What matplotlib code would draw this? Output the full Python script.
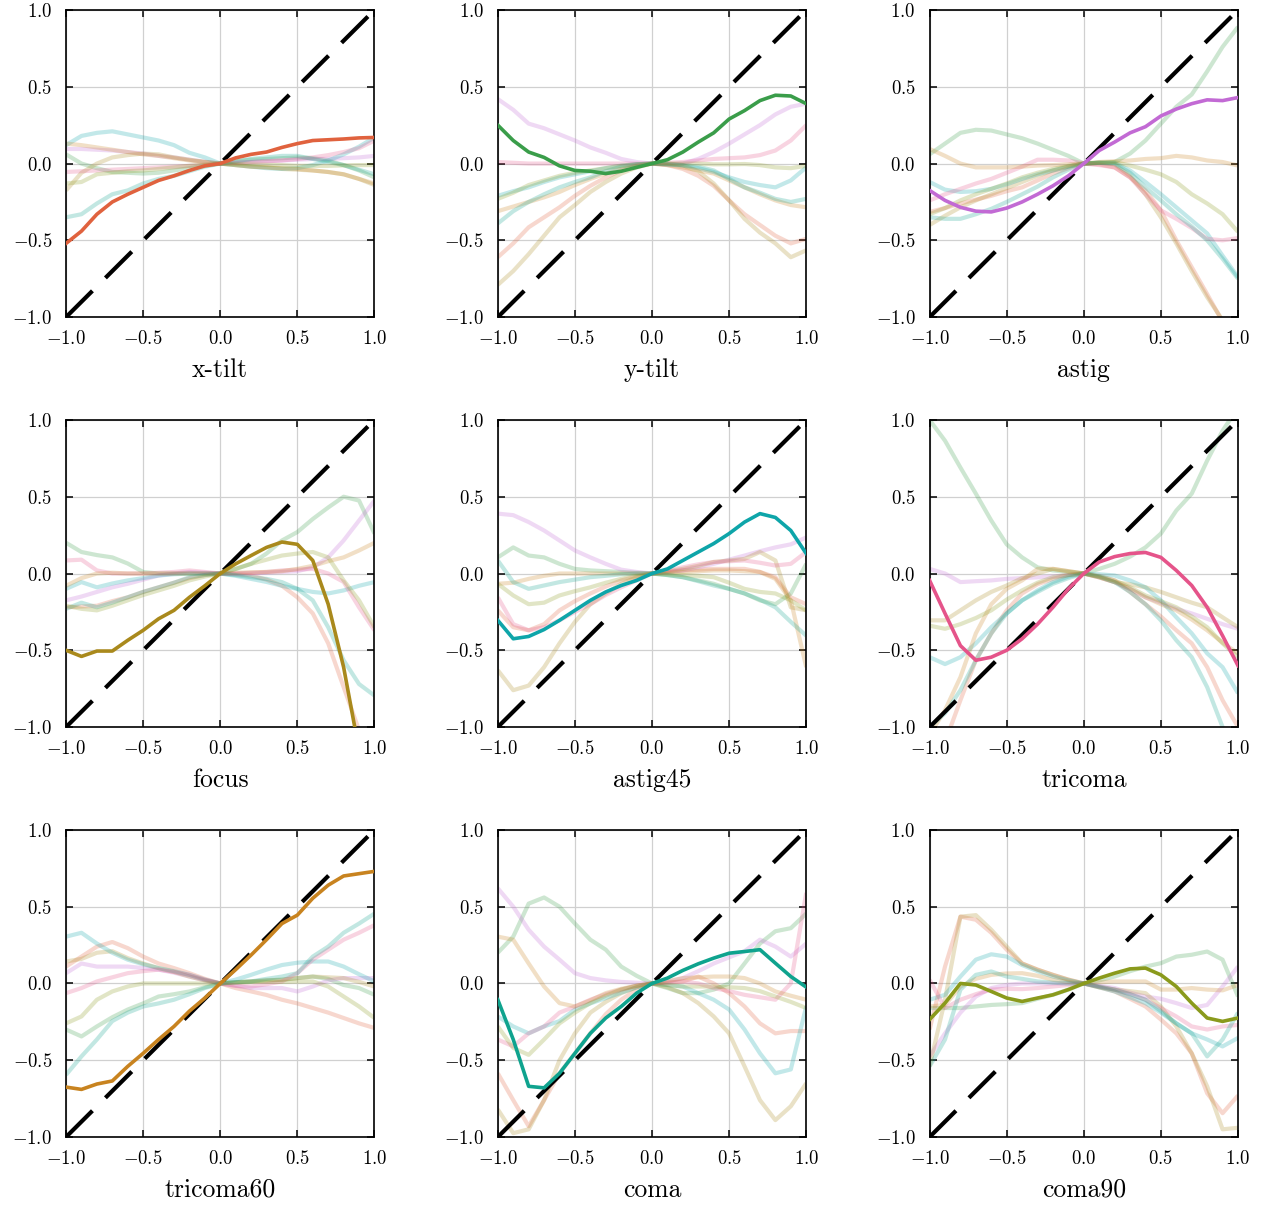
import numpy as np
import matplotlib
matplotlib.use("Agg")
import matplotlib.pyplot as plt

# ─────────────────────────────────────────────────────────
# Data: response of every mode while sweeping one mode
# rows follow MODES order, columns follow X
# ─────────────────────────────────────────────────────────
MODES = ['x-tilt', 'y-tilt', 'astig', 'focus', 'astig45',
         'tricoma', 'tricoma60', 'coma', 'coma90']

COLORS = ['#e0623e', '#3a9d4a', '#c26ad4', '#a9891c', '#0ea5a9',
          '#e5548a', '#c8831f', '#0fa38e', '#8a9a1c']

X = np.round(np.arange(-1.0, 1.001, 0.1), 2)

XTILT = [
    [-0.52, -0.44, -0.33, -0.25, -0.20, -0.155, -0.11, -0.08, -0.045, -0.015, 0, 0.037, 0.06, 0.075, 0.105, 0.13, 0.15, 0.155, 0.16, 0.167, 0.17],
    [0.06, 0.0, -0.03, -0.055, -0.06, -0.065, -0.06, -0.045, -0.03, -0.015, 0, 0.015, 0.025, 0.03, 0.035, 0.04, 0.035, 0.02, -0.01, -0.045, -0.09],
    [0.095, 0.095, 0.09, 0.085, 0.075, 0.065, 0.05, 0.04, 0.025, 0.012, 0, 0.005, 0.01, 0.015, 0.02, 0.025, 0.03, 0.03, 0.035, 0.04, 0.05],
    [-0.175, -0.06, 0.0, 0.04, 0.055, 0.065, 0.06, 0.04, 0.025, 0.01, 0, -0.01, -0.02, -0.025, -0.035, -0.04, -0.045, -0.055, -0.07, -0.1, -0.14],
    [0.12, 0.18, 0.2, 0.21, 0.19, 0.17, 0.15, 0.12, 0.07, 0.04, 0, -0.01, -0.02, -0.03, -0.035, -0.03, -0.01, 0.02, 0.06, 0.11, 0.17],
    [-0.055, -0.05, -0.045, -0.04, -0.035, -0.03, -0.025, -0.02, -0.015, -0.008, 0, 0.005, 0.01, 0.015, 0.02, 0.03, 0.04, 0.055, 0.075, 0.1, 0.15],
    [0.13, 0.12, 0.105, 0.09, 0.075, 0.06, 0.05, 0.035, 0.02, 0.01, 0, -0.01, -0.02, -0.025, -0.03, -0.035, -0.045, -0.055, -0.07, -0.1, -0.13],
    [-0.35, -0.33, -0.26, -0.2, -0.175, -0.13, -0.1, -0.08, -0.05, -0.02, 0, 0.015, 0.03, 0.04, 0.05, 0.05, 0.03, 0.01, -0.01, -0.04, -0.07],
    [-0.13, -0.12, -0.07, -0.06, -0.05, -0.045, -0.035, -0.025, -0.015, -0.008, 0, -0.003, -0.005, -0.008, -0.01, -0.015, -0.015, -0.015, -0.012, -0.01, -0.01],
]

YTILT = [
    [-0.61, -0.52, -0.415, -0.35, -0.285, -0.21, -0.145, -0.09, -0.045, -0.015, 0, -0.01, -0.035, -0.08, -0.145, -0.24, -0.33, -0.4, -0.47, -0.52, -0.49],
    [0.25, 0.15, 0.075, 0.04, -0.015, -0.045, -0.05, -0.065, -0.05, -0.025, 0, 0.025, 0.075, 0.14, 0.2, 0.29, 0.345, 0.41, 0.445, 0.44, 0.39],
    [0.42, 0.35, 0.26, 0.23, 0.19, 0.15, 0.105, 0.07, 0.03, 0.01, 0, -0.005, 0.0, 0.03, 0.075, 0.13, 0.19, 0.25, 0.32, 0.37, 0.39],
    [-0.79, -0.7, -0.59, -0.47, -0.35, -0.27, -0.185, -0.12, -0.065, -0.025, 0, 0.0, -0.01, -0.05, -0.13, -0.24, -0.36, -0.45, -0.52, -0.61, -0.565],
    [-0.21, -0.18, -0.155, -0.12, -0.09, -0.07, -0.05, -0.03, -0.013, -0.005, 0, -0.005, -0.013, -0.03, -0.055, -0.09, -0.12, -0.14, -0.155, -0.11, -0.025],
    [0.01, 0.005, 0.0, 0.0, 0.0, 0.0, 0.0, 0.0, 0.0, 0.0, 0, 0.005, 0.01, 0.02, 0.03, 0.035, 0.04, 0.055, 0.085, 0.15, 0.25],
    [-0.31, -0.28, -0.25, -0.22, -0.185, -0.14, -0.1, -0.065, -0.035, -0.015, 0, -0.01, -0.025, -0.045, -0.065, -0.11, -0.155, -0.2, -0.24, -0.27, -0.285],
    [-0.39, -0.31, -0.25, -0.2, -0.155, -0.12, -0.09, -0.05, -0.02, -0.005, 0, -0.005, -0.01, -0.02, -0.045, -0.1, -0.155, -0.19, -0.23, -0.25, -0.23],
    [-0.23, -0.19, -0.14, -0.11, -0.08, -0.06, -0.045, -0.03, -0.015, -0.005, 0, 0.0, 0.0, 0.0, -0.005, -0.005, -0.003, -0.01, -0.025, -0.03, -0.015],
]

ASTIG = [
    [-0.315, -0.29, -0.26, -0.235, -0.21, -0.18, -0.155, -0.11, -0.065, -0.03, 0, -0.005, -0.025, -0.09, -0.175, -0.305, -0.5, -0.675, -0.85, -1.03, -1.2],
    [0.06, 0.13, 0.2, 0.22, 0.215, 0.19, 0.165, 0.13, 0.09, 0.05, 0, 0.005, 0.01, 0.065, 0.15, 0.26, 0.37, 0.45, 0.6, 0.76, 0.89],
    [-0.175, -0.24, -0.285, -0.31, -0.315, -0.29, -0.25, -0.2, -0.145, -0.08, 0, 0.085, 0.14, 0.2, 0.24, 0.31, 0.355, 0.39, 0.415, 0.41, 0.43],
    [-0.4, -0.34, -0.285, -0.24, -0.2, -0.16, -0.12, -0.08, -0.045, -0.02, 0, 0.005, -0.005, -0.08, -0.2, -0.35, -0.52, -0.7, -0.87, -1.02, -1.2],
    [-0.12, -0.17, -0.185, -0.18, -0.165, -0.135, -0.1, -0.07, -0.045, -0.02, 0, 0.005, 0.005, -0.045, -0.12, -0.2, -0.285, -0.37, -0.455, -0.6, -0.74],
    [-0.24, -0.2, -0.165, -0.13, -0.1, -0.06, -0.02, 0.025, 0.025, 0.02, 0, -0.01, -0.025, -0.09, -0.2, -0.305, -0.36, -0.42, -0.49, -0.5, -0.485],
    [0.095, 0.05, 0.0, -0.025, -0.025, -0.025, -0.02, -0.013, -0.01, -0.005, 0, 0.01, 0.015, 0.02, 0.03, 0.035, 0.05, 0.04, 0.02, 0.01, -0.013],
    [-0.35, -0.36, -0.36, -0.33, -0.295, -0.25, -0.2, -0.15, -0.09, -0.04, 0, 0.005, 0.0, -0.06, -0.155, -0.24, -0.33, -0.41, -0.5, -0.62, -0.75],
    [-0.33, -0.29, -0.24, -0.2, -0.165, -0.13, -0.09, -0.06, -0.035, -0.015, 0, 0.005, 0.01, -0.013, -0.04, -0.07, -0.12, -0.2, -0.26, -0.33, -0.445],
]

FOCUS = [
    [-0.22, -0.215, -0.21, -0.18, -0.155, -0.12, -0.09, -0.06, -0.03, -0.01, 0, -0.005, -0.013, -0.04, -0.08, -0.155, -0.26, -0.455, -0.74, -1.02, -1.3],
    [0.2, 0.14, 0.12, 0.105, 0.065, 0.01, 0.0, 0.0, 0.0, 0.0, 0, 0.03, 0.063, 0.13, 0.215, 0.27, 0.355, 0.43, 0.5, 0.475, 0.26],
    [-0.175, -0.15, -0.12, -0.09, -0.067, -0.04, -0.013, 0.0, 0.01, 0.005, 0, 0.0, 0.0, 0.005, 0.01, 0.015, 0.04, 0.105, 0.215, 0.345, 0.475],
    [-0.5, -0.54, -0.505, -0.505, -0.435, -0.37, -0.295, -0.24, -0.155, -0.08, 0, 0.063, 0.117, 0.17, 0.205, 0.19, 0.085, -0.2, -0.61, -1.15, -1.5],
    [-0.1, -0.056, -0.09, -0.065, -0.045, -0.03, -0.013, -0.005, 0.0, 0.0, 0, -0.015, -0.035, -0.055, -0.08, -0.1, -0.12, -0.13, -0.11, -0.08, -0.056],
    [0.085, 0.09, 0.02, 0.0, 0.0, 0.0, 0.005, 0.01, 0.02, 0.01, 0, 0.0, 0.005, 0.01, 0.02, 0.025, 0.03, 0.0, -0.055, -0.22, -0.37],
    [-0.08, -0.03, 0.0, 0.005, 0.0, 0.0, 0.0, 0.0, 0.0, 0.0, 0, 0.005, 0.008, 0.01, 0.015, 0.03, 0.05, 0.08, 0.105, 0.15, 0.2],
    [-0.23, -0.19, -0.22, -0.19, -0.155, -0.12, -0.09, -0.06, -0.024, -0.01, 0, -0.01, -0.024, -0.035, -0.056, -0.1, -0.175, -0.35, -0.565, -0.72, -0.795],
    [-0.21, -0.23, -0.24, -0.21, -0.175, -0.14, -0.11, -0.08, -0.045, -0.02, 0, 0.03, 0.063, 0.09, 0.117, 0.13, 0.14, 0.105, -0.045, -0.175, -0.35],
]

ASTIG45 = [
    [-0.24, -0.35, -0.37, -0.33, -0.24, -0.18, -0.13, -0.085, -0.045, -0.02, 0, 0.01, 0.02, 0.025, 0.03, 0.03, 0.03, 0.01, -0.024, -0.155, -0.2],
    [0.105, 0.17, 0.117, 0.105, 0.063, 0.03, 0.02, 0.015, 0.01, 0.005, 0, -0.01, -0.024, -0.045, -0.067, -0.1, -0.13, -0.175, -0.2, -0.13, 0.063],
    [0.39, 0.38, 0.335, 0.28, 0.215, 0.15, 0.105, 0.063, 0.025, 0.01, 0, 0.01, 0.02, 0.04, 0.063, 0.09, 0.117, 0.145, 0.17, 0.19, 0.235],
    [-0.63, -0.76, -0.73, -0.61, -0.455, -0.315, -0.2, -0.13, -0.067, -0.025, 0, 0.015, 0.03, 0.05, 0.075, 0.085, 0.095, 0.14, 0.085, -0.22, -0.24],
    [-0.305, -0.425, -0.41, -0.365, -0.305, -0.24, -0.175, -0.12, -0.078, -0.045, 0, 0.03, 0.085, 0.14, 0.195, 0.26, 0.335, 0.39, 0.365, 0.28, 0.13],
    [-0.155, -0.33, -0.37, -0.35, -0.305, -0.25, -0.2, -0.14, -0.09, -0.045, 0, 0.02, 0.04, 0.06, 0.075, 0.08, 0.085, 0.07, 0.052, 0.063, 0.14],
    [-0.067, -0.06, -0.035, -0.015, 0.0, 0.0, 0.0, 0.0, 0.0, 0.0, 0, 0.005, 0.01, 0.015, 0.02, 0.02, 0.015, 0.01, -0.035, -0.175, -0.61],
    [0.085, -0.056, -0.1, -0.078, -0.056, -0.04, -0.024, -0.015, -0.005, 0.0, 0, -0.01, -0.024, -0.05, -0.078, -0.1, -0.13, -0.17, -0.22, -0.315, -0.405],
    [-0.067, -0.143, -0.2, -0.19, -0.143, -0.115, -0.09, -0.06, -0.035, -0.015, 0, -0.005, -0.01, -0.015, -0.024, -0.06, -0.1, -0.12, -0.13, -0.175, -0.24],
]

TRICOMA = [
    [-1.15, -1.1, -0.825, -0.565, -0.39, -0.24, -0.13, -0.07, -0.035, -0.01, 0, -0.015, -0.045, -0.12, -0.2, -0.28, -0.37, -0.455, -0.61, -0.825, -1.0],
    [1.0, 0.865, 0.69, 0.52, 0.345, 0.19, 0.105, 0.04, 0.02, 0.01, 0, 0.03, 0.063, 0.11, 0.17, 0.26, 0.41, 0.52, 0.735, 0.93, 1.08],
    [0.03, 0.0, -0.056, -0.05, -0.045, -0.035, -0.03, -0.025, -0.02, -0.01, 0, -0.025, -0.056, -0.1, -0.155, -0.19, -0.23, -0.26, -0.295, -0.33, -0.36],
    [-0.305, -0.305, -0.24, -0.175, -0.12, -0.078, -0.03, 0.0, 0.03, 0.015, 0, -0.025, -0.056, -0.07, -0.09, -0.12, -0.155, -0.19, -0.22, -0.285, -0.35],
    [-0.545, -0.59, -0.545, -0.455, -0.35, -0.26, -0.175, -0.11, -0.056, -0.02, 0, -0.005, -0.013, -0.045, -0.09, -0.175, -0.285, -0.39, -0.52, -0.61, -0.78],
    [-0.045, -0.26, -0.47, -0.565, -0.545, -0.5, -0.425, -0.33, -0.22, -0.1, 0, 0.075, 0.11, 0.13, 0.137, 0.105, 0.02, -0.078, -0.22, -0.405, -0.6],
    [-1.05, -0.89, -0.675, -0.39, -0.2, -0.1, -0.045, 0.03, 0.03, 0.015, 0, -0.025, -0.056, -0.1, -0.155, -0.2, -0.24, -0.3, -0.37, -0.45, -0.52],
    [-1.0, -0.91, -0.76, -0.565, -0.39, -0.26, -0.175, -0.12, -0.067, -0.03, 0, -0.02, -0.056, -0.12, -0.2, -0.305, -0.435, -0.545, -0.74, -1.0, -1.2],
    [-0.34, -0.36, -0.33, -0.29, -0.24, -0.17, -0.11, -0.06, -0.024, -0.01, 0, -0.02, -0.045, -0.09, -0.143, -0.18, -0.22, -0.28, -0.35, -0.455, -0.545],
]

TRICOMA60 = [
    [0.11, 0.175, 0.24, 0.27, 0.23, 0.175, 0.13, 0.1, 0.067, 0.03, 0, -0.03, -0.052, -0.075, -0.106, -0.13, -0.16, -0.19, -0.225, -0.26, -0.29],
    [-0.3, -0.345, -0.28, -0.22, -0.17, -0.13, -0.085, -0.07, -0.052, -0.025, 0, 0.008, 0.013, 0.02, 0.024, 0.035, 0.045, 0.03, -0.01, -0.03, -0.074],
    [0.067, 0.13, 0.11, 0.11, 0.11, 0.1, 0.09, 0.07, 0.045, 0.02, 0, -0.015, -0.03, -0.03, -0.03, -0.052, -0.02, 0.02, 0.035, 0.035, 0.035],
    [0.143, 0.16, 0.2, 0.21, 0.165, 0.13, 0.1, 0.075, 0.045, 0.02, 0, 0.008, 0.013, 0.02, 0.024, 0.035, 0.045, 0.04, 0.035, 0.01, -0.02],
    [0.305, 0.33, 0.26, 0.2, 0.155, 0.125, 0.1, 0.08, 0.056, 0.025, 0, 0.025, 0.056, 0.09, 0.12, 0.135, 0.143, 0.143, 0.11, 0.06, 0.013],
    [-0.063, -0.03, 0.013, 0.04, 0.067, 0.08, 0.09, 0.075, 0.056, 0.025, 0, -0.015, -0.02, -0.005, 0.013, 0.067, 0.155, 0.22, 0.285, 0.33, 0.38],
    [-0.675, -0.69, -0.655, -0.635, -0.54, -0.455, -0.365, -0.28, -0.18, -0.095, 0, 0.09, 0.185, 0.285, 0.39, 0.445, 0.555, 0.64, 0.7, 0.715, 0.73],
    [-0.595, -0.475, -0.365, -0.245, -0.19, -0.15, -0.13, -0.106, -0.07, -0.03, 0, 0.008, 0.013, 0.03, 0.045, 0.067, 0.175, 0.24, 0.33, 0.39, 0.455],
    [-0.26, -0.215, -0.106, -0.052, -0.02, 0.0, 0.0, 0.0, 0.0, 0.0, 0, 0.005, 0.01, 0.01, 0.01, 0.012, 0.013, -0.02, -0.085, -0.15, -0.225],
]

COMA = [
    [-0.585, -0.76, -0.93, -0.76, -0.585, -0.455, -0.325, -0.2, -0.106, -0.04, 0, 0.005, 0.013, 0.045, 0.0, -0.063, -0.15, -0.26, -0.325, -0.31, -0.31],
    [0.2, 0.305, 0.52, 0.56, 0.5, 0.39, 0.285, 0.22, 0.11, 0.05, 0, -0.03, -0.063, -0.063, -0.04, 0.0, 0.13, 0.26, 0.34, 0.36, 0.455],
    [0.62, 0.5, 0.35, 0.24, 0.155, 0.067, 0.035, 0.02, 0.01, 0.005, 0, 0.01, 0.035, 0.08, 0.13, 0.17, 0.21, 0.285, 0.24, 0.175, 0.26],
    [-0.82, -0.975, -0.95, -0.76, -0.5, -0.325, -0.19, -0.12, -0.063, -0.025, 0, -0.025, -0.063, -0.128, -0.215, -0.325, -0.54, -0.76, -0.89, -0.8, -0.65],
    [-0.215, -0.28, -0.325, -0.28, -0.245, -0.17, -0.13, -0.095, -0.06, -0.025, 0, -0.01, -0.02, -0.063, -0.106, -0.17, -0.3, -0.455, -0.585, -0.56, -0.15],
    [-0.365, -0.41, -0.325, -0.28, -0.19, -0.15, -0.106, -0.07, -0.04, -0.015, 0, 0.005, 0.013, 0.0, -0.03, -0.05, -0.074, -0.09, -0.106, 0.0, 0.59],
    [0.305, 0.285, 0.13, -0.02, -0.128, -0.15, -0.11, -0.063, -0.035, -0.015, 0, 0.015, 0.035, 0.04, 0.045, 0.045, 0.035, 0.0, -0.052, -0.08, -0.106],
    [-0.106, -0.365, -0.67, -0.68, -0.585, -0.455, -0.325, -0.225, -0.15, -0.063, 0, 0.035, 0.085, 0.128, 0.165, 0.197, 0.208, 0.22, 0.132, 0.045, -0.024],
    [-0.28, -0.42, -0.465, -0.365, -0.26, -0.19, -0.128, -0.08, -0.04, -0.015, 0, -0.01, -0.02, -0.02, -0.02, -0.025, -0.03, -0.05, -0.085, -0.12, -0.16],
]

COMA90 = [
    [-0.3, 0.11, 0.435, 0.415, 0.33, 0.22, 0.13, 0.09, 0.056, 0.025, 0, -0.025, -0.052, -0.1, -0.15, -0.235, -0.325, -0.455, -0.715, -0.845, -0.73],
    [-0.16, -0.16, -0.16, -0.15, -0.14, -0.135, -0.128, -0.1, -0.074, -0.04, 0, 0.02, 0.045, 0.08, 0.11, 0.132, 0.175, 0.187, 0.208, 0.155, -0.085],
    [-0.475, -0.325, -0.19, -0.085, -0.03, -0.01, 0.0, 0.0, 0.0, 0.0, 0, -0.015, -0.03, -0.06, -0.085, -0.1, -0.128, -0.16, -0.14, -0.02, 0.11],
    [-0.54, -0.106, 0.435, 0.445, 0.35, 0.24, 0.13, 0.09, 0.056, 0.025, 0, -0.025, -0.04, -0.05, -0.063, -0.15, -0.28, -0.455, -0.67, -0.95, -0.94],
    [-0.106, -0.074, 0.045, 0.155, 0.19, 0.175, 0.12, 0.08, 0.045, 0.02, 0, -0.025, -0.052, -0.09, -0.128, -0.19, -0.26, -0.325, -0.365, -0.41, -0.355],
    [0.024, -0.16, -0.106, -0.07, -0.04, -0.035, -0.037, -0.03, -0.02, -0.01, 0, -0.02, -0.04, -0.07, -0.106, -0.16, -0.215, -0.28, -0.3, -0.28, -0.27],
    [-0.15, -0.14, -0.02, 0.03, 0.056, 0.065, 0.067, 0.05, 0.024, 0.01, 0, 0.008, 0.013, 0.013, 0.013, -0.04, -0.04, -0.03, -0.04, -0.045, -0.01],
    [-0.54, -0.365, -0.04, 0.056, 0.078, 0.045, 0.03, 0.013, 0.005, 0.0, 0, -0.02, -0.04, -0.07, -0.106, -0.18, -0.26, -0.325, -0.475, -0.365, -0.19],
    [-0.235, -0.128, 0.0, -0.01, -0.052, -0.095, -0.117, -0.095, -0.074, -0.04, 0, 0.035, 0.067, 0.095, 0.1, 0.056, -0.02, -0.128, -0.225, -0.247, -0.225],
]

PANELS = [XTILT, YTILT, ASTIG, FOCUS, ASTIG45, TRICOMA, TRICOMA60, COMA, COMA90]


# ─────────────────────────────────────────────────────────
# Style
# ─────────────────────────────────────────────────────────
plt.rcParams['font.family'] = ['cmr10', 'DejaVu Serif']
plt.rcParams['mathtext.fontset'] = 'cm'
plt.rcParams['axes.formatter.use_mathtext'] = True
plt.rcParams['axes.unicode_minus'] = True


def main():
    fig, axes = plt.subplots(3, 3, figsize=(12.63, 12.07), dpi=100)
    fig.subplots_adjust(left=0.0523, right=0.9802, top=0.9917, bottom=0.058,
                        wspace=0.40, hspace=0.335)

    for k, ax in enumerate(axes.flat):
        data = PANELS[k]
        # faint responses of the other modes
        for i, row in enumerate(data):
            if i == k:
                continue
            ax.plot(X, row, color=COLORS[i], lw=3, alpha=0.25,
                    solid_capstyle='butt', zorder=2)

        # ideal response
        ax.plot([-1, 1], [-1, 1], color='black', lw=3,
                dashes=(8.93, 4.4), zorder=3)

        # swept mode itself
        ax.plot(X, data[k], color=COLORS[k], lw=2.6, zorder=4)

        ax.set_xlim(-1, 1)
        ax.set_ylim(-1, 1)
        ax.set_xticks([-1, -0.5, 0, 0.5, 1])
        ax.set_yticks([-1, -0.5, 0, 0.5, 1])
        ax.grid(True, color='#d0d0d0', lw=0.9)
        ax.set_axisbelow(True)
        ax.tick_params(direction='in', top=True, right=True, length=5,
                       width=1.1, labelsize=13.5)
        ax.tick_params(axis='x', pad=9.5)
        ax.tick_params(axis='y', pad=10)
        for sp in ax.spines.values():
            sp.set_linewidth(1.2)
        ax.set_xlabel(MODES[k], fontsize=18.5, labelpad=7)

    fig.savefig('out.png', dpi=100)


if __name__ == "__main__":
    main()
